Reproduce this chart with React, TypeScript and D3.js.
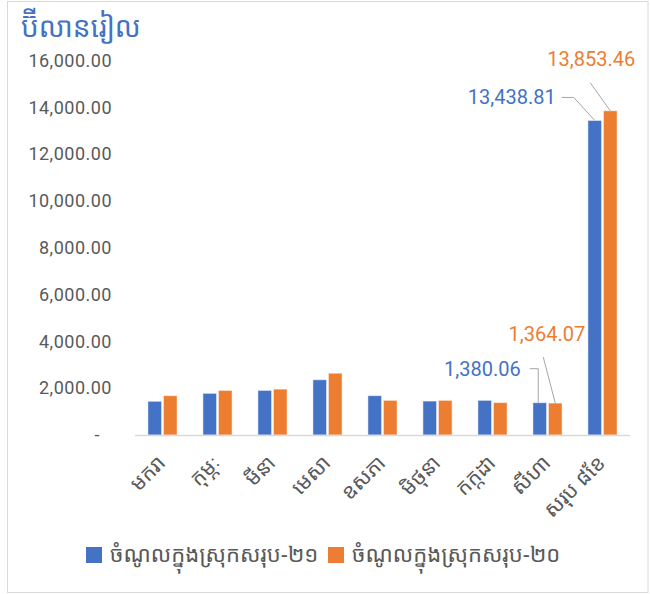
import React from "react";
import * as d3 from "d3";

const categories = ["មករា", "កុម្ភៈ", "មីនា", "មេសា", "ឧសភា", "មិថុនា", "កក្កដា", "សីហា", "សរុប ៨ខែ"];
const series21 = [1440, 1780, 1905, 2360, 1680, 1450, 1480, 1380.06, 13438.81];
const series20 = [1680, 1905, 1960, 2640, 1480, 1480, 1385, 1364.07, 13853.46];
const seriesNames = ["ចំណូលក្នុងស្រុកសរុប-២១", "ចំណូលក្នុងស្រុកសរុប-២០"];
const yTicks = [0, 2000, 4000, 6000, 8000, 10000, 12000, 14000, 16000];
const title = "ប៊ីលានរៀល";

const BLUE = "#4472C4";
const ORANGE = "#ED7D31";
const GRAY = "#595959";
const FONT = "'Noto Sans Khmer', 'Khmer OS', 'Khmer OS System', 'Noto Sans', 'DejaVu Sans', sans-serif";
const NUMFONT = "Roboto, 'Noto Sans', sans-serif";

export default function App() {
  const W = 650, H = 594;
  const left = 135, right = 630, top = 60.5, bottom = 435;
  const x0 = d3.scaleBand<string>().domain(categories).range([left, right]).paddingInner(0.47).paddingOuter(0.235);
  const x1 = d3.scaleBand<string>().domain(["a", "b"]).range([0, x0.bandwidth()]).paddingInner(0.12);
  const y = d3.scaleLinear().domain([0, 16000]).range([bottom, top]);
  const fmt = d3.format(",.2f");
  const series = [
    { key: "a", values: series21, color: BLUE },
    { key: "b", values: series20, color: ORANGE },
  ];

  const lab8b = { xc: x0(categories[7])! + x1("a")! + x1.bandwidth() / 2, yt: y(series21[7]) };
  const lab8o = { xc: x0(categories[7])! + x1("b")! + x1.bandwidth() / 2, yt: y(series20[7]) };
  const lab9b = { xc: x0(categories[8])! + x1("a")! + x1.bandwidth() / 2, yt: y(series21[8]) };
  const lab9o = { xc: x0(categories[8])! + x1("b")! + x1.bandwidth() / 2, yt: y(series20[8]) };

  return (
    <svg width={W} height={H} style={{ position: "absolute", left: 0, top: 0, background: "#fff" }}>
      <rect x={7.5} y={1.5} width={640.5} height={591} fill="#fff" stroke="#D9D9D9" strokeWidth={1} />
      <text x={21} y={37} fill={BLUE} fontSize={28} fontFamily={FONT}>{title}</text>

      {yTicks.map((t) => (
        <text key={t} x={t === 0 ? 100 : 112} y={y(t)} dy="0.35em" textAnchor="end" fill={GRAY} fontSize={18} letterSpacing={0.5} fontFamily={NUMFONT}>
          {t === 0 ? "-" : fmt(t)}
        </text>
      ))}

      {categories.map((c, i) => (
        <g key={c} transform={`translate(${x0(c)!},0)`}>
          {series.map((s) => (
            <rect
              key={s.key}
              x={x1(s.key)!}
              y={y(s.values[i])}
              width={x1.bandwidth()}
              height={bottom - y(s.values[i])}
              fill={s.color}
              stroke="#ffffff"
              strokeOpacity={0.5}
              strokeWidth={1}
            />
          ))}
        </g>
      ))}

      <line x1={left} x2={right} y1={bottom + 0.5} y2={bottom + 0.5} stroke="#D9D9D9" strokeWidth={1.5} />

      {categories.map((c) => {
        const cx = x0(c)! + x0.bandwidth() / 2;
        return (
          <text key={c} transform={`translate(${cx - 1},${bottom + 24}) rotate(-45)`} textAnchor="end" dy="0.35em" fill={GRAY} fontSize={21} fontFamily={FONT}>
            {c}
          </text>
        );
      })}

      <polyline points={`${lab9b.xc - 33},${lab9b.yt - 23} ${lab9b.xc - 21},${lab9b.yt - 23} ${lab9b.xc},${lab9b.yt}`} fill="none" stroke="#A6A6A6" />
      <text x={lab9b.xc - 39} y={lab9b.yt - 23} dy="0.35em" textAnchor="end" fill={BLUE} fontSize={20} fontFamily={NUMFONT}>{fmt(series21[8])}</text>

      <polyline points={`${lab9o.xc - 20},${lab9o.yt - 28} ${lab9o.xc},${lab9o.yt}`} fill="none" stroke="#A6A6A6" />
      <text x={lab9o.xc + 25} y={lab9o.yt - 52} dy="0.35em" textAnchor="end" fill={ORANGE} fontSize={20} fontFamily={NUMFONT}>{fmt(series20[8])}</text>

      <polyline points={`${lab8b.xc - 10},${lab8b.yt - 34} ${lab8b.xc - 1.5},${lab8b.yt - 34} ${lab8b.xc - 1.5},${lab8b.yt}`} fill="none" stroke="#A6A6A6" />
      <text x={lab8b.xc - 19} y={lab8b.yt - 34} dy="0.35em" textAnchor="end" fill={BLUE} fontSize={20} fontFamily={NUMFONT}>{fmt(series21[7])}</text>

      <polyline points={`${lab8o.xc - 12},${lab8o.yt - 46} ${lab8o.xc},${lab8o.yt}`} fill="none" stroke="#A6A6A6" />
      <text x={lab8o.xc + 30} y={lab8o.yt - 69} dy="0.35em" textAnchor="end" fill={ORANGE} fontSize={20} fontFamily={NUMFONT}>{fmt(series20[7])}</text>

      {series.map((s, i) => {
        const lx = i === 0 ? 86 : 328;
        return (
          <g key={s.key}>
            <rect x={lx} y={547} width={16} height={16} fill={s.color} />
            <text x={lx + 24} y={554} dy="0.35em" fill={GRAY} fontSize={22} fontFamily={FONT}>{seriesNames[i]}</text>
          </g>
        );
      })}
    </svg>
  );
}
